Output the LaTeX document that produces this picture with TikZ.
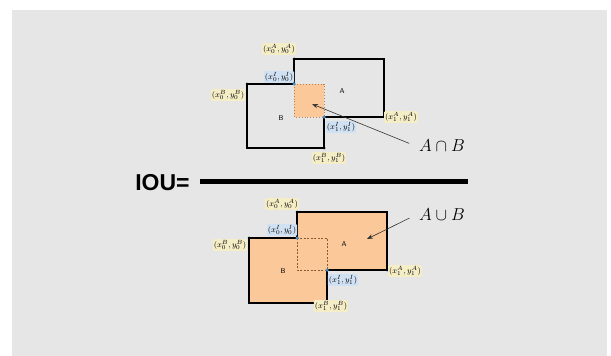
\documentclass[tikz,border=0pt]{standalone}
\usepackage{fontspec}
\newfontfamily\ioufont{Liberation Sans}
\usetikzlibrary{arrows.meta}
\definecolor{bgc}{HTML}{E6E6E6}
\definecolor{fillor}{HTML}{FBC89A}
\definecolor{ylab}{HTML}{F5EDC6}
\definecolor{blab}{HTML}{D0E1F3}
\definecolor{bdot}{HTML}{4A8CC0}
\definecolor{idash}{HTML}{C08050}
\definecolor{udash}{HTML}{8A5A30}
\begin{document}
\begin{tikzpicture}[x=1pt,y=-1pt,
  lab/.style={fill=ylab, inner sep=1pt, rounded corners=1pt, font=\fontsize{8.5}{9}\selectfont},
  ilab/.style={lab, fill=blab},
  outline/.style={line width=1.3pt, black, line join=miter},
  cdot/.style={circle, fill=black, inner sep=0pt, minimum size=3pt},
  bluedot/.style={circle, fill=bdot, inner sep=0pt, minimum size=3.5pt},
  rlab/.style={font=\sffamily\fontsize{7}{8}\selectfont},
  setlab/.style={font=\fontsize{17}{20}\selectfont},
  pointer/.style={-{Stealth[length=6pt,width=4.5pt]}, line width=0.6pt, black!80}]
\useasboundingbox (0,0) rectangle (611,356);
\fill[white] (0,0) rectangle (611,356);
\fill[bgc] (12,10) rectangle (607,356);

% ---------- top: intersection ----------
\coordinate (tA0) at (294,59);
\coordinate (tA1) at (384,117);
\coordinate (tB0) at (247,84);
\coordinate (tB1) at (324,148);
\coordinate (tI0) at (294,84);
\coordinate (tI1) at (324,117);
\coordinate (tIc) at (312,104);
\fill[fillor] (tI0) rectangle (tI1);
\draw[idash, dotted, line width=0.9pt] (tI0) rectangle (tI1);
\draw[outline] (tI0) -- (tA0) -| (tA1) -| (tB1) -| (tB0) -- cycle;
\node[cdot] (ta0d) at (tA0) {};
\node[cdot] (ta1d) at (tA1) {};
\node[cdot] (tb0d) at (tB0) {};
\node[cdot] (tb1d) at (tB1) {};
\node[bluedot] (ti0d) at (tI0) {};
\node[bluedot] (ti1d) at (tI1) {};
\node[lab] (tA0l) at (279,49) {$(x_0^A,y_0^A)$};
\node[ilab] (tI0l) at (279,77) {$(x_0^I,y_0^I)$};
\node[lab] (tB0l) at (228,95) {$(x_0^B,y_0^B)$};
\node[lab] (tA1l) at (401,117) {$(x_1^A,y_1^A)$};
\node[ilab] (tI1l) at (341,127) {$(x_1^I,y_1^I)$};
\node[lab] (tB1l) at (329,158) {$(x_1^B,y_1^B)$};
\node[rlab] (tAt) at (342,91) {A};
\node[rlab] (tBt) at (281,118) {B};
\node[setlab] (capl) at (442,146) {$A\cap B$};
\draw[pointer, shorten <=7pt] (capl.west) -- (tIc);

% ---------- fraction bar ----------
\node[font=\ioufont\bfseries\fontsize{23}{26}\selectfont, inner sep=0pt] (iou) at (162.5,183) {IOU=};
\coordinate (barL) at (200,181);
\coordinate (barR) at (468,181);
\draw[line width=5pt, black] (barL) -- (barR);

% ---------- bottom: union ----------
\coordinate (bA0) at (297,212);
\coordinate (bA1) at (387,270);
\coordinate (bB0) at (249,238);
\coordinate (bB1) at (327,303);
\coordinate (bI0) at (297,238);
\coordinate (bI1) at (327,270);
\coordinate (bAc) at (367,239);
\fill[fillor] (bI0) -- (bA0) -| (bA1) -| (bB1) -| (bB0) -- cycle;
\draw[udash, dash pattern=on 2pt off 1.5pt, line width=0.7pt] (bI0) rectangle (bI1);
\draw[outline] (bI0) -- (bA0) -| (bA1) -| (bB1) -| (bB0) -- cycle;
\node[cdot] (ba0d) at (bA0) {};
\node[cdot] (ba1d) at (bA1) {};
\node[cdot] (bb0d) at (bB0) {};
\node[cdot] (bb1d) at (bB1) {};
\node[bluedot] (bi0d) at (bI0) {};
\node[bluedot] (bi1d) at (bI1) {};
\node[lab] (bA0l) at (282,204) {$(x_0^A,y_0^A)$};
\node[ilab] (bI0l) at (282,230) {$(x_0^I,y_0^I)$};
\node[lab] (bB0l) at (230,245) {$(x_0^B,y_0^B)$};
\node[lab] (bA1l) at (405,271) {$(x_1^A,y_1^A)$};
\node[ilab] (bI1l) at (343,280) {$(x_1^I,y_1^I)$};
\node[lab] (bB1l) at (331,306) {$(x_1^B,y_1^B)$};
\node[rlab] (bAt) at (344,244) {A};
\node[rlab] (bBt) at (283,271) {B};
\node[setlab] (cupl) at (442,215) {$A\cup B$};
\draw[pointer, shorten <=7pt] (cupl.west) -- (bAc);
\end{tikzpicture}
\end{document}
